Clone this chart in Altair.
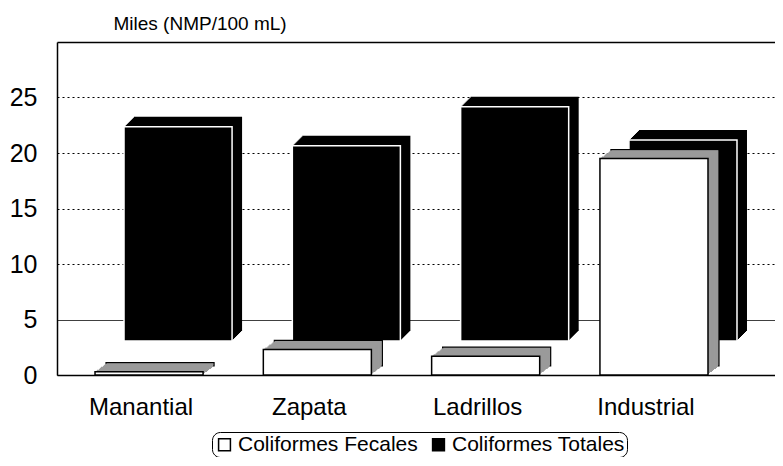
import altair as alt
import pandas as pd

# ---- data ----
categories = ["Manantial", "Zapata", "Ladrillos", "Industrial"]
fecales = [0.3, 2.3, 1.7, 19.5]
totales = [19.3, 17.6, 21.1, 18.1]
series = ["Coliformes Fecales", "Coliformes Totales"]
y_ticks = [0, 5, 10, 15, 20, 25]

rows = []
for c, f, t in zip(categories, fecales, totales):
    rows.append({"sitio": c, "serie": series[0], "valor": f})
    rows.append({"sitio": c, "serie": series[1], "valor": t})
df = pd.DataFrame(rows)

FONT = "Liberation Sans, Arial, Helvetica, sans-serif"

x_scale = alt.Scale(domain=categories, paddingInner=0.358, paddingOuter=0.312, align=0.362)
y_scale = alt.Scale(domain=[0, 30], nice=False, zero=True)
color_scale = alt.Scale(domain=series, range=["#ffffff", "#000000"])

y_axis = alt.Axis(
    values=y_ticks,
    title="Miles (NMP/100 mL)",
    titleAngle=0, titleAlign="left", titleBaseline="middle",
    titleX=56, titleY=-19,
    titleFont=FONT, titleFontSize=19, titleFontWeight="normal", titleColor="black",
    labelFont=FONT, labelFontSize=25, labelColor="black", labelPadding=20,
    ticks=False, tickSize=0,
    domain=True, domainColor="black", domainWidth=1.5,
    grid=True, gridColor="black", gridWidth=1,
    gridDash={"condition": {"test": "datum.value === 5", "value": [1, 0]}, "value": [2, 3]},
)

x_axis_bottom = alt.Axis(
    title=None, labelAngle=0,
    labelFont=FONT, labelFontSize=24, labelColor="black",
    labelPadding=20, labelOffset=-8,
    ticks=False, tickSize=0,
    domain=True, domainColor="black", domainWidth=1.5, grid=False,
)
x_axis_top = alt.Axis(
    orient="top", title=None, labels=False, ticks=False, tickSize=0,
    domain=True, domainColor="black", domainWidth=1.5, grid=False,
)

base = alt.Chart(df)
Y = alt.Y("valor:Q", scale=y_scale, axis=y_axis)
tot = base.transform_filter(alt.datum.serie == series[1])
fec = base.transform_filter(alt.datum.serie == series[0])

layers = []

# depth (extrusion) of the back-row bars: Coliformes Totales
TOT_DX, TOT_DY, TOT_DEPTH = 29, -34, 10
for k in range(TOT_DEPTH, 0, -1):
    axis = x_axis_bottom if k == TOT_DEPTH else None
    layers.append(
        tot.mark_bar(
            xOffset=TOT_DX + k, yOffset=TOT_DY - k, y2Offset=TOT_DY - k, fill="black"
        ).encode(x=alt.X("sitio:N", scale=x_scale, axis=axis), y=Y)
    )
layers.append(
    tot.mark_bar(
        xOffset=TOT_DX, yOffset=TOT_DY, y2Offset=TOT_DY,
        fill="black", stroke="white", strokeWidth=1.5,
    ).encode(x=alt.X("sitio:N", scale=x_scale, axis=None), y=Y)
)

# depth (extrusion) of the front-row bars: Coliformes Fecales
FEC_DEPTH = 9
for k in range(FEC_DEPTH, 0, -1):
    props = dict(xOffset=round(k * 1.25), yOffset=-k, y2Offset=-k, fill="#9a9a9a")
    if k == FEC_DEPTH:
        props.update(stroke="black", strokeWidth=1.2)
    layers.append(
        fec.mark_bar(**props).encode(x=alt.X("sitio:N", scale=x_scale, axis=None), y=Y)
    )

layers.append(
    fec.mark_bar(stroke="black", strokeWidth=1.5).encode(
        x=alt.X("sitio:N", scale=x_scale, axis=x_axis_top),
        y=Y,
        color=alt.Color(
            "serie:N", scale=color_scale,
            legend=alt.Legend(
                orient="none", legendX=155, legendY=390, direction="horizontal",
                title=None, symbolType="square", symbolSize=140,
                symbolStrokeColor="black", symbolStrokeWidth=1.5,
                labelFont=FONT, labelFontSize=21, labelColor="black", labelLimit=400,
                columnPadding=10, labelOffset=3,
                strokeColor="black", cornerRadius=8, padding=2,
            ),
        ),
    )
)

chart = (
    alt.layer(*layers)
    .resolve_axis(x="independent")
    .properties(
        width=718, height=333,
        padding={"left": 49, "top": 34, "right": 0, "bottom": 82},
        autosize=alt.AutoSizeParams(type="none"),
    )
    .configure_view(stroke="transparent")
)

chart.save("out.html", embed_options={"renderer": "svg", "actions": False})
